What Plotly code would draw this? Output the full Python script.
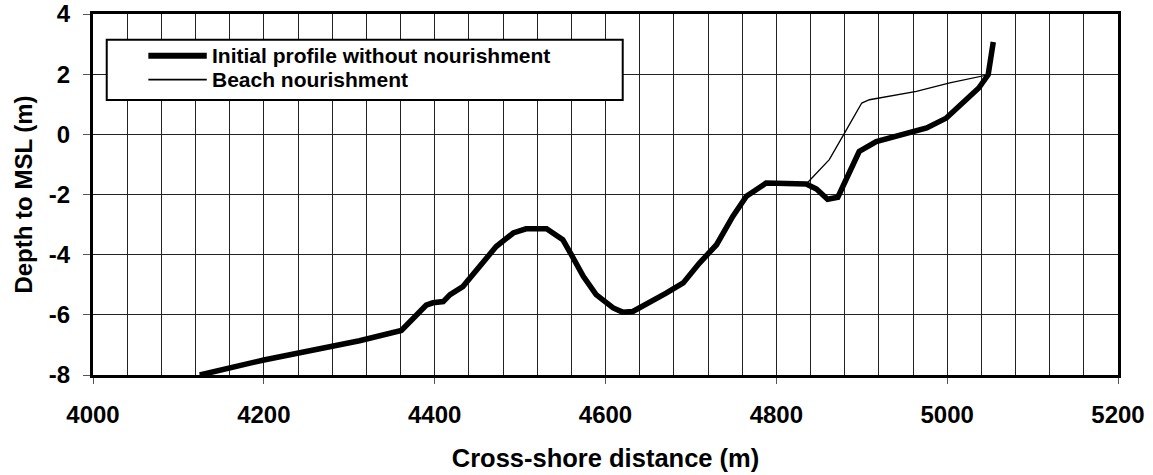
import plotly.graph_objects as go

# Cross-shore profile (distance in m, depth to MSL in m)
profile_x = [4125, 4200, 4312, 4361, 4390, 4398, 4410, 4418, 4433, 4449, 4472,
             4492, 4507, 4531, 4550, 4560, 4574, 4589, 4609, 4620, 4632, 4671,
             4691, 4710, 4730, 4749, 4765, 4788, 4823, 4835, 4847, 4860, 4872,
             4886, 4897, 4917, 4956, 4976, 4999, 5018, 5037, 5048, 5054]
profile_y = [-8.0, -7.5, -6.86, -6.52, -5.68, -5.6, -5.56, -5.33, -5.06, -4.5,
             -3.73, -3.28, -3.14, -3.14, -3.5, -4.0, -4.72, -5.33, -5.77, -5.91,
             -5.89, -5.28, -4.94, -4.28, -3.67, -2.73, -2.06, -1.62, -1.62, -1.65,
             -1.82, -2.16, -2.09, -1.29, -0.57, -0.24, 0.04, 0.21, 0.54, 1.04,
             1.54, 1.98, 3.07]

# Nourished section, between where it leaves and rejoins the initial profile
fill_x = [4862, 4882, 4900, 4909, 4964, 5003, 5042]
fill_y = [-0.84, 0.15, 1.04, 1.15, 1.43, 1.71, 1.95]

x_ticks = [4000, 4200, 4400, 4600, 4800, 5000, 5200]
y_ticks = [-8, -6, -4, -2, 0, 2, 4]

names = ["Initial profile without nourishment", "Beach nourishment"]

# nourished profile = initial profile with the section replaced
start, end = 4835, 5048
nour_x = [x for x in profile_x if x <= start] + fill_x + [x for x in profile_x if x >= end]
nour_y = ([y for x, y in zip(profile_x, profile_y) if x <= start] + fill_y
          + [y for x, y in zip(profile_x, profile_y) if x >= end])

FONT = "Arial, Liberation Sans, sans-serif"
GRID = "#222222"
WIDTHS = [5.5, 1.3]

fig = go.Figure()
fig.add_trace(go.Scatter(x=profile_x, y=profile_y, mode="lines", name=names[0],
                         line=dict(color="black", width=WIDTHS[0])))
fig.add_trace(go.Scatter(x=nour_x, y=nour_y, mode="lines", name=names[1],
                         line=dict(color="black", width=WIDTHS[1])))

# Excel-style legend box drawn in paper coordinates
fig.add_shape(type="rect", xref="paper", yref="paper", x0=0.0134, x1=0.5168,
              y0=0.762, y1=0.9288, line=dict(color="black", width=2),
              fillcolor="white", layer="above")
for i, (name, yp) in enumerate(zip(names, [0.8845, 0.8180])):
    fig.add_shape(type="line", xref="paper", yref="paper", x0=0.054, x1=0.111,
                  y0=yp, y1=yp, line=dict(color="black", width=WIDTHS[i] + 0.5),
                  layer="above")
    fig.add_annotation(xref="paper", yref="paper", x=0.1148, y=yp, text=name,
                       showarrow=False, xanchor="left", yanchor="middle",
                       borderpad=0,
                       font=dict(family=FONT, size=21, color="black", weight="bold"))

fig.update_layout(
    width=1153, height=475, showlegend=False,
    paper_bgcolor="white", plot_bgcolor="white",
    margin=dict(l=93, r=35, t=14, b=100),
    font=dict(family=FONT, size=24, color="black", weight="bold"),
    xaxis=dict(
        range=[4000, 5200], tickvals=x_ticks, ticktext=[str(v) for v in x_ticks],
        ticks="outside", ticklen=6, tickcolor="#555", tickwidth=1, ticklabelstandoff=10,
        showline=True, mirror=True, linewidth=3, linecolor="black",
        showgrid=True, gridcolor=GRID, gridwidth=1,
        minor=dict(dtick=40, showgrid=True, gridcolor=GRID, gridwidth=1, ticks=""),
        zeroline=False,
        title=dict(text="Cross-shore distance (m)", standoff=23,
                   font=dict(family=FONT, size=25.5, weight="bold")),
        automargin=False,
    ),
    yaxis=dict(
        range=[-8, 4], tickvals=y_ticks, ticktext=[str(v) for v in y_ticks],
        ticks="outside", ticklen=7, tickcolor="#555", tickwidth=1, ticklabelstandoff=8,
        showline=True, mirror=True, linewidth=3, linecolor="black",
        showgrid=True, gridcolor=GRID, gridwidth=1,
        zeroline=False,
        title=dict(text="Depth to MSL (m)", standoff=10,
                   font=dict(family=FONT, size=24, weight="bold")),
        automargin=False,
    ),
)

fig.write_html("out.html", config={"displayModeBar": False},
               post_script="document.body.style.margin='0';")
